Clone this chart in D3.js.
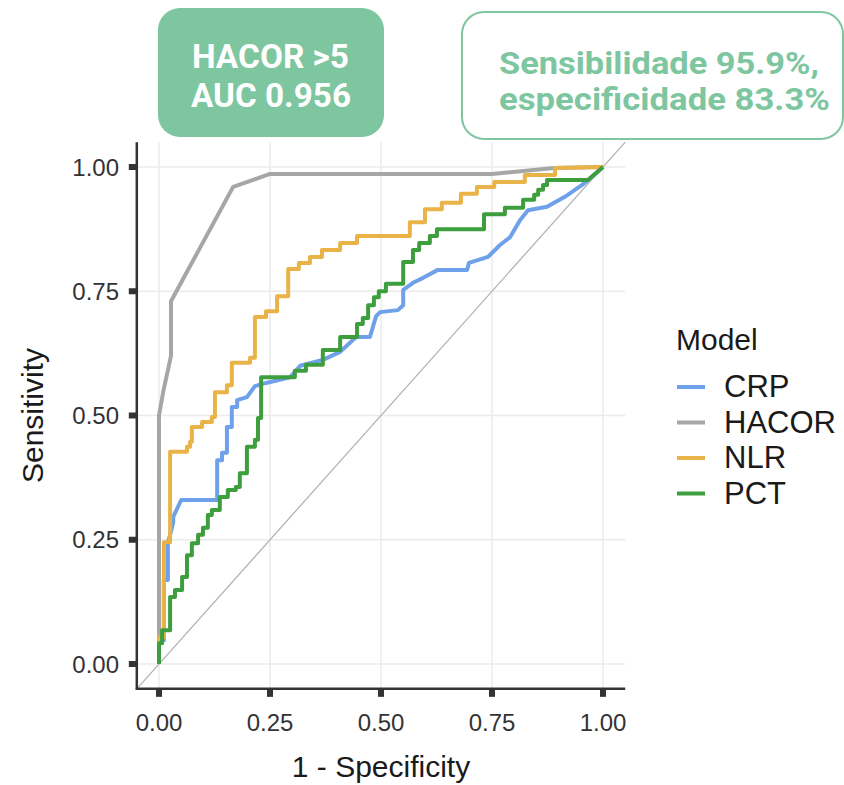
<!DOCTYPE html>
<html>
<head>
<meta charset="utf-8">
<script src="https://cdn.jsdelivr.net/npm/d3@7"></script>
<style>
  html, body { margin: 0; padding: 0; background: #fff; }
  svg { display: block; }
</style>
</head>
<body>
<svg id="chart" width="844" height="785"></svg>
<script>
// Valeurs (1 - spécificité, sensibilité)
const models = ["CRP", "HACOR", "NLR", "PCT"];
const modelColors = ["#6fa1ea", "#a6a6a6", "#e9b348", "#3d9e3d"];
const ticks = [0, 0.25, 0.5, 0.75, 1];
const tickLabels = ["0.00", "0.25", "0.50", "0.75", "1.00"];

// CRP et HACOR : points du tracé
const crpFpr = [0,0,0.011,0.011,0.02,0.02,0.032,0.032,0.05,0.131,0.131,0.142,0.142,0.153,0.153,0.164,0.164,0.176,0.176,0.198,0.216,0.239,0.295,0.318,0.369,0.408,0.444,0.475,0.489,0.498,0.538,0.55,0.55,0.572,0.595,0.628,0.694,0.698,0.741,0.768,0.791,0.813,0.831,0.874,0.914,0.953,0.975,1];
const crpTpr = [0,0.048,0.048,0.169,0.169,0.243,0.284,0.296,0.33,0.33,0.41,0.41,0.425,0.425,0.477,0.477,0.517,0.517,0.531,0.537,0.559,0.565,0.577,0.6,0.612,0.628,0.658,0.658,0.7,0.708,0.712,0.722,0.753,0.767,0.777,0.793,0.793,0.807,0.819,0.843,0.859,0.893,0.913,0.92,0.94,0.964,0.98,1];
const hacorFpr = [0,0,0.01,0.027,0.027,0.167,0.25,0.75,0.89,1];
const hacorTpr = [0,0.5,0.55,0.62,0.73,0.96,0.986,0.986,0.998,1];

// NLR et PCT : marches (x du saut, sensibilité après le saut)
const nlrFpr = [0,0.011,0.025,0.063,0.07,0.074,0.097,0.119,0.126,0.153,0.164,0.205,0.216,0.241,0.266,0.291,0.315,0.34,0.367,0.408,0.446,0.565,0.599,0.637,0.68,0.716,0.755,0.824,0.892];
const nlrTpr = [0.054,0.245,0.427,0.437,0.447,0.477,0.487,0.497,0.547,0.561,0.606,0.616,0.698,0.71,0.74,0.795,0.807,0.819,0.833,0.847,0.861,0.889,0.915,0.928,0.946,0.96,0.97,0.984,0.998];
const pctFpr = [0,0.007,0.025,0.036,0.052,0.063,0.074,0.088,0.099,0.11,0.119,0.137,0.155,0.173,0.182,0.198,0.216,0.223,0.23,0.306,0.331,0.369,0.408,0.446,0.459,0.471,0.484,0.495,0.511,0.55,0.572,0.586,0.61,0.626,0.732,0.779,0.82,0.845,0.854,0.865,0.874,0.966];
const pctTpr = [0.042,0.068,0.135,0.149,0.175,0.219,0.243,0.26,0.274,0.3,0.31,0.336,0.35,0.356,0.384,0.437,0.451,0.495,0.577,0.59,0.602,0.632,0.658,0.684,0.696,0.722,0.738,0.75,0.765,0.809,0.833,0.847,0.861,0.875,0.905,0.918,0.934,0.944,0.954,0.964,0.974,0.974];

function points(fpr, tpr) {
  return fpr.map((x, i) => [x, tpr[i]]);
}
// Construire l'escalier à partir des sauts
function steps(fpr, tpr) {
  const pts = [[0, 0]];
  fpr.forEach((x, i) => {
    pts.push([x, i === 0 ? 0 : tpr[i - 1]]);
    pts.push([x, tpr[i]]);
  });
  pts.push([1, 1]);
  return pts;
}

const series = [
  points(crpFpr, crpTpr),
  points(hacorFpr, hacorTpr),
  steps(nlrFpr, nlrTpr),
  steps(pctFpr, pctTpr)
];

const svg = d3.select("#chart");
const x = d3.scaleLinear().domain([0, 1]).range([159, 603]);
const y = d3.scaleLinear().domain([0, 1]).range([664, 167]);
const pLeft = x(-0.05), pRight = x(1.05), pTop = y(1.05), pBottom = y(-0.05);

// Grille
const grid = svg.append("g");
grid.selectAll(".gx").data(ticks).enter().append("line")
  .attr("x1", d => x(d)).attr("x2", d => x(d))
  .attr("y1", pTop).attr("y2", pBottom)
  .attr("stroke", "#ebebeb").attr("stroke-width", 1.5);
grid.selectAll(".gy").data(ticks).enter().append("line")
  .attr("y1", d => y(d)).attr("y2", d => y(d))
  .attr("x1", pLeft).attr("x2", pRight)
  .attr("stroke", "#ebebeb").attr("stroke-width", 1.5);

// Diagonale
svg.append("line")
  .attr("x1", x(-0.05)).attr("y1", y(-0.05))
  .attr("x2", x(1.05)).attr("y2", y(1.05))
  .attr("stroke", "#b3b3b3").attr("stroke-width", 1.3);

// Courbes ROC
const line = d3.line().x(d => x(d[0])).y(d => y(d[1]));
svg.selectAll(".roc").data(series).enter().append("path")
  .attr("class", "roc")
  .attr("d", line)
  .attr("fill", "none")
  .attr("stroke", (d, i) => modelColors[i])
  .attr("stroke-width", 4)
  .attr("stroke-linejoin", "round");

// Axes
svg.append("line").attr("x1", pLeft).attr("x2", pLeft).attr("y1", pTop).attr("y2", pBottom + 1)
  .attr("stroke", "#333").attr("stroke-width", 2.5);
svg.append("line").attr("x1", pLeft - 1).attr("x2", pRight).attr("y1", pBottom).attr("y2", pBottom)
  .attr("stroke", "#333").attr("stroke-width", 2.5);

svg.selectAll(".tx").data(ticks).enter().append("line")
  .attr("x1", d => x(d)).attr("x2", d => x(d))
  .attr("y1", pBottom).attr("y2", pBottom + 8)
  .attr("stroke", "#333").attr("stroke-width", 6);
svg.selectAll(".ty").data(ticks).enter().append("line")
  .attr("y1", d => y(d)).attr("y2", d => y(d))
  .attr("x1", pLeft).attr("x2", pLeft - 8)
  .attr("stroke", "#333").attr("stroke-width", 6);

const font = "'Liberation Sans', Arial, Helvetica, sans-serif";
svg.selectAll(".lx").data(ticks).enter().append("text")
  .attr("x", d => x(d)).attr("y", 731)
  .attr("text-anchor", "middle")
  .attr("font-family", font).attr("font-size", 24).attr("fill", "#333")
  .text((d, i) => tickLabels[i]);
svg.selectAll(".ly").data(ticks).enter().append("text")
  .attr("x", 119).attr("y", d => y(d) + 8.5)
  .attr("text-anchor", "end")
  .attr("font-family", font).attr("font-size", 24).attr("fill", "#333")
  .text((d, i) => tickLabels[i]);

svg.append("text")
  .attr("x", (pLeft + pRight) / 2).attr("y", 777)
  .attr("text-anchor", "middle")
  .attr("font-family", font).attr("font-size", 30).attr("fill", "#1a1a1a")
  .text("1 - Specificity");
svg.append("text")
  .attr("transform", `translate(43,${(pTop + pBottom) / 2}) rotate(-90)`)
  .attr("text-anchor", "middle")
  .attr("font-family", font).attr("font-size", 30).attr("fill", "#1a1a1a")
  .text("Sensitivity");

// Légende
svg.append("text")
  .attr("x", 676).attr("y", 350)
  .attr("font-family", font).attr("font-size", 30).attr("fill", "#1a1a1a")
  .text("Model");
const legend = svg.selectAll(".leg").data(models).enter().append("g")
  .attr("transform", (d, i) => `translate(0,${397 + i * 35.5})`);
legend.append("line")
  .attr("x1", 677).attr("x2", 705).attr("y1", -10).attr("y2", -10)
  .attr("stroke", (d, i) => modelColors[i]).attr("stroke-width", 4);
legend.append("text")
  .attr("x", 724).attr("y", 0)
  .attr("font-family", font).attr("font-size", 31).attr("fill", "#1a1a1a")
  .text(d => d);

// Encadrés du haut
const boxGreen = "#7ec6a0";
const boxFont = "Roboto, 'DejaVu Sans Condensed', sans-serif";
svg.append("rect")
  .attr("x", 158).attr("y", 8).attr("width", 226).attr("height", 129)
  .attr("rx", 22).attr("fill", boxGreen);
svg.append("text")
  .attr("x", 192).attr("y", 68).attr("textLength", 157).attr("lengthAdjust", "spacingAndGlyphs")
  .attr("font-family", boxFont).attr("font-weight", 700).attr("font-size", 34).attr("fill", "#fff")
  .text("HACOR >5");
svg.append("text")
  .attr("x", 191).attr("y", 107).attr("textLength", 160).attr("lengthAdjust", "spacingAndGlyphs")
  .attr("font-family", boxFont).attr("font-weight", 700).attr("font-size", 34).attr("fill", "#fff")
  .text("AUC 0.956");

svg.append("rect")
  .attr("x", 462).attr("y", 12).attr("width", 381).attr("height", 127)
  .attr("rx", 22).attr("fill", "#fff").attr("stroke", boxGreen).attr("stroke-width", 2);
svg.append("text")
  .attr("x", 499).attr("y", 74).attr("textLength", 320).attr("lengthAdjust", "spacingAndGlyphs")
  .attr("font-family", boxFont).attr("font-weight", 700).attr("font-size", 31).attr("fill", boxGreen)
  .text("Sensibilidade 95.9%,");
svg.append("text")
  .attr("x", 499).attr("y", 110).attr("textLength", 331).attr("lengthAdjust", "spacingAndGlyphs")
  .attr("font-family", boxFont).attr("font-weight", 700).attr("font-size", 31).attr("fill", boxGreen)
  .text("especificidade 83.3%");
</script>
</body>
</html>
